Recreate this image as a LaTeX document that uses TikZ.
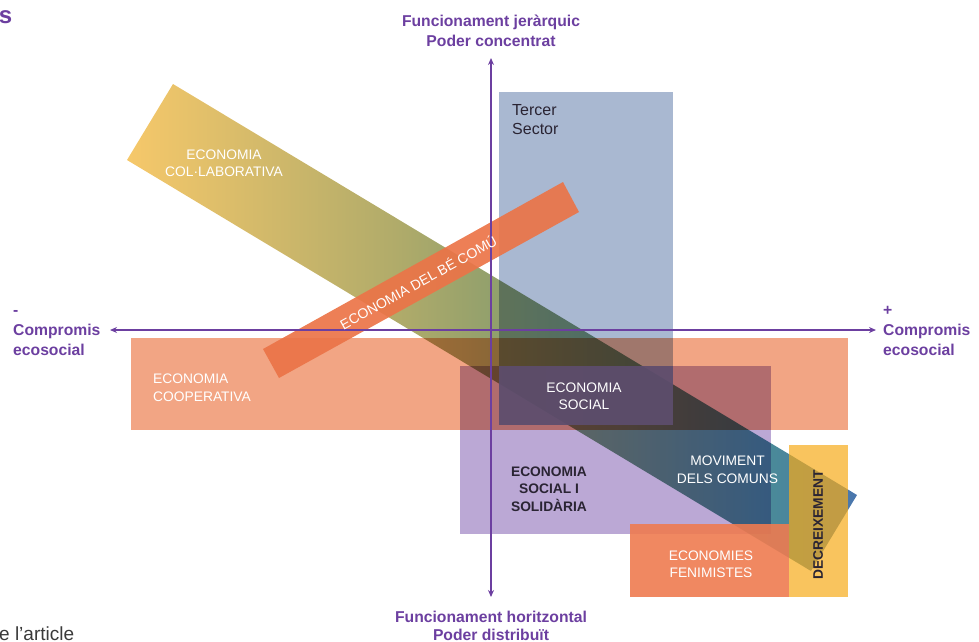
\documentclass[tikz,border=0pt]{standalone}
\usepackage{fontspec}
\setmainfont{Liberation Sans}
\usetikzlibrary{arrows.meta}

\definecolor{axispurple}{HTML}{6C3FA0}
\definecolor{tagdark}{HTML}{2A2433}
\definecolor{notegrey}{HTML}{3A3A3A}
\definecolor{coopcolor}{HTML}{F2A584}
\definecolor{tercercolor}{HTML}{A9B8D1}
\definecolor{esscolor}{HTML}{BBA8D5}
\definecolor{socialcolor}{HTML}{605070}
\definecolor{becomucolor}{HTML}{EB7448}
\definecolor{femcolor}{HTML}{EE7B50}
\definecolor{decreixcolor}{HTML}{F6AB1A}
\definecolor{collabyellow}{HTML}{F6C86A}
\definecolor{collabolive}{HTML}{B0AB6A}
\definecolor{collabgreen}{HTML}{92A06C}
\definecolor{collabteal}{HTML}{4A8A98}
\definecolor{collabblue}{HTML}{4A76AE}

\pgfdeclarehorizontalshading{collabshade}{100bp}{color(0bp)=(collabyellow); color(25bp)=(collabyellow);
  color(43.5bp)=(collabolive); color(50bp)=(collabgreen); color(69bp)=(collabteal);
  color(75bp)=(collabblue); color(100bp)=(collabblue)}

\begin{document}
\begin{tikzpicture}[x=1pt,y=-1pt,
    axis/.style={axispurple,line width=1.2pt,{Stealth[length=7pt,width=6pt]}-{Stealth[length=7pt,width=6pt]}},
    axislabel/.style={text=axispurple,font=\fontsize{15.7}{20}\selectfont\bfseries,inner sep=0pt},
    zone/.style={blend mode=multiply},
    tag/.style={text=white,font=\fontsize{13.8}{17.5}\selectfont,inner sep=0pt,align=center},
    darktag/.style={tag,text=tagdark,font=\fontsize{13.8}{17.5}\selectfont\bfseries}]
  \useasboundingbox (0,0) rectangle (979,641);
  \clip (0,0) rectangle (979,641);

  % zones
  \fill[zone,coopcolor] (131,338) rectangle (848,430);
  \fill[zone,tercercolor] (499,92) rectangle (673,425);
  \fill[zone,esscolor] (460,366) rectangle (771,534);
  \shade[zone,shading=collabshade] (173,84) -- (857,495) -- (811,571) -- (127,160) -- cycle;
  \fill[socialcolor,opacity=0.9] (499,366) rectangle (673,425);
  \fill[becomucolor,opacity=0.92] (263,349) -- (563,182) -- (579,212) -- (279,378) -- cycle;
  \fill[femcolor,opacity=0.9] (630,524) rectangle (789,597);
  \fill[decreixcolor,opacity=0.7] (789,445) rectangle (848,597);

  % axes
  \coordinate (west) at (110,330);
  \coordinate (east) at (876,330);
  \coordinate (north) at (491,58);
  \coordinate (south) at (491,597);
  \draw[axis] (west) -- (east);
  \draw[axis] (south) -- (north);

  \node[axislabel,align=center] (jerarquic) at (491,31) {Funcionament jeràrquic\\Poder concentrat};
  \node[axislabel,align=center,font=\fontsize{15.7}{18}\selectfont\bfseries] (horitzontal) at (491,626) {Funcionament horitzontal\\Poder distribuït};
  \node[axislabel,align=left,anchor=west] (menys) at (13,333) {-\\Compromis\\ecosocial};
  \node[axislabel,align=left,anchor=west] (mes) at (883,331) {+\\Compromis\\ecosocial};

  % zone labels
  \node[tag] (collab) at (224,163) {ECONOMIA\\COL·LABORATIVA};
  \node[tag,text=tagdark,align=left,anchor=north west,font=\fontsize{16}{19}\selectfont] (tercer) at (512,104.5) {Tercer\\Sector};
  \node[tag,align=left,anchor=west] (coop) at (153,387.5) {ECONOMIA\\COOPERATIVA};
  \node[tag] (social) at (584,396) {ECONOMIA\\SOCIAL};
  \node[darktag] (ess) at (549,489) {ECONOMIA\\SOCIAL I\\SOLIDÀRIA};
  \node[tag] (comuns) at (727.5,469.5) {MOVIMENT\\DELS COMUNS};
  \node[tag] (feministes) at (711,564) {ECONOMIES\\FENIMISTES};
  \node[darktag,rotate=90] (decreix) at (818,525) {DECREIXEMENT};
  \coordinate (becomuA) at (271,363.5);
  \coordinate (becomuB) at (571,197);
  \path (becomuA) -- (becomuB) node[tag,sloped,pos=0.49,font=\fontsize{14}{17}\selectfont] (becomu) {ECONOMIA DEL BÉ COMÚ};

  % cut-off page texts
  \node[text=axispurple,font=\fontsize{24}{24}\selectfont\bfseries,anchor=base east,inner sep=0pt] (titol) at (12.5,23) {s};
  \node[text=notegrey,font=\fontsize{19}{19}\selectfont,anchor=base west,inner sep=0pt] (nota) at (-1,640) {e l'article};
\end{tikzpicture}
\end{document}
